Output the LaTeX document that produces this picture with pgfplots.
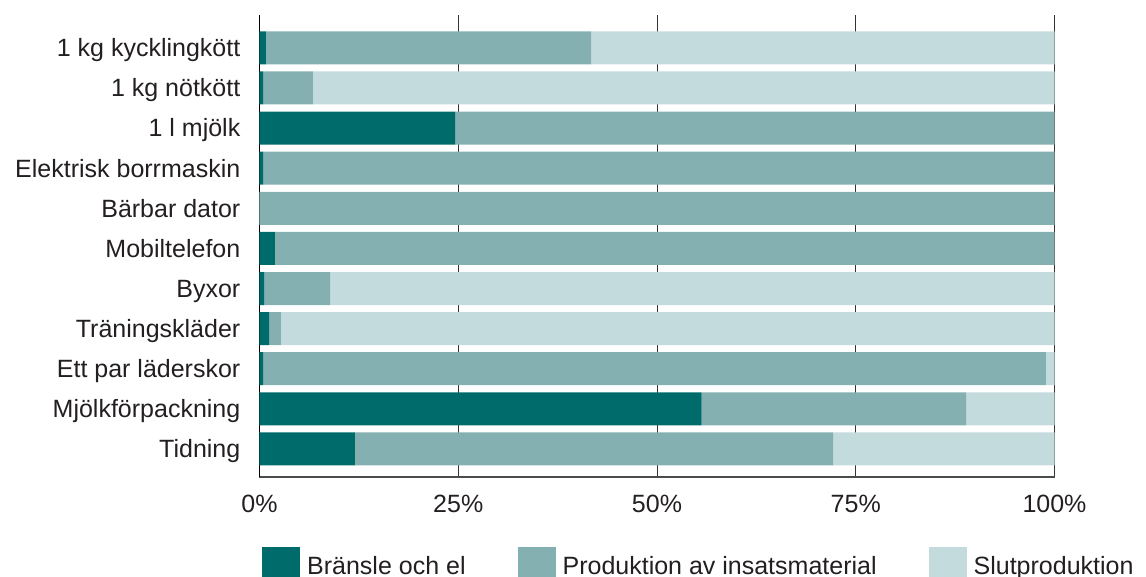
\documentclass[border=0pt]{standalone}
\usepackage{fontspec}
\setmainfont{Liberation Sans}
\usepackage{pgfplots}
\pgfplotsset{compat=1.18}

\definecolor{darkteal}{RGB}{0,107,107}
\definecolor{midteal}{RGB}{132,176,178}
\definecolor{lightteal}{RGB}{195,219,220}
\definecolor{txt}{RGB}{35,31,32}

\begin{document}
\begin{tikzpicture}
\begin{axis}[
    at={(0,0)}, anchor=south west,
    scale only axis,
    width=795pt, height=462pt,
    xbar stacked,
    bar width=33pt,
    y dir=reverse,
    xmin=0, xmax=100,
    ymin=-0.82, ymax=10.7,
    axis x line*=bottom,
    axis y line*=left,
    x axis line style={draw=black!70, line width=1.5pt, -},
    y axis line style={draw=black, line width=1.5pt, -},
    xmajorgrids,
    grid style={draw=black!80, line width=1pt},
    major tick length=0pt,
    xtick={0,25,50,75,100},
    xticklabels={0\%,25\%,50\%,75\%,100\%},
    ytick={0,1,2,3,4,5,6,7,8,9,10},
    yticklabels={1 kg kycklingkött,1 kg nötkött,1 l mjölk,Elektrisk borrmaskin,Bärbar dator,Mobiltelefon,Byxor,Träningskläder,Ett par läderskor,Mjölkförpackning,Tidning},
    tick label style={font=\fontsize{25}{30}\selectfont, text=txt},
    x tick label style={anchor=north, inner sep=0pt, yshift=-18pt},
    y tick label style={anchor=base east, inner sep=0pt, xshift=-19pt, yshift=-8.8pt},
    legend columns=3,
    legend style={at={(rel axis cs:0,0)}, anchor=north west, xshift=2.5pt, yshift=-70pt,
        draw=none, fill=none, inner sep=0pt,
        font=\fontsize{25}{30}\selectfont, text=txt,
        /tikz/every odd column/.append style={column sep=5pt},
        /tikz/every even column/.append style={column sep=50pt}},
    legend image code/.code={\fill[#1, draw=none] (0pt,-19pt) rectangle (38pt,19pt);},
]
\addplot[fill=darkteal, draw=none] coordinates {
    (0.8,0) (0.45,1) (24.6,2) (0.45,3) (0,4) (1.95,5) (0.57,6) (1.2,7) (0.45,8) (55.6,9) (12.0,10)};
\addplot[fill=midteal, draw=none] coordinates {
    (40.9,0) (6.25,1) (75.4,2) (99.55,3) (100,4) (98.05,5) (8.33,6) (1.5,7) (98.45,8) (33.3,9) (60.2,10)};
\addplot[fill=lightteal, draw=none] coordinates {
    (58.3,0) (93.3,1) (0,2) (0,3) (0,4) (0,5) (91.1,6) (97.3,7) (1.1,8) (11.1,9) (27.8,10)};
\legend{Bränsle och el, Produktion av insatsmaterial, Slutproduktion}
\end{axis}
\pgfresetboundingbox
\useasboundingbox (-259.5pt,-99pt) rectangle (886.5pt,477pt);
\end{tikzpicture}
\end{document}
